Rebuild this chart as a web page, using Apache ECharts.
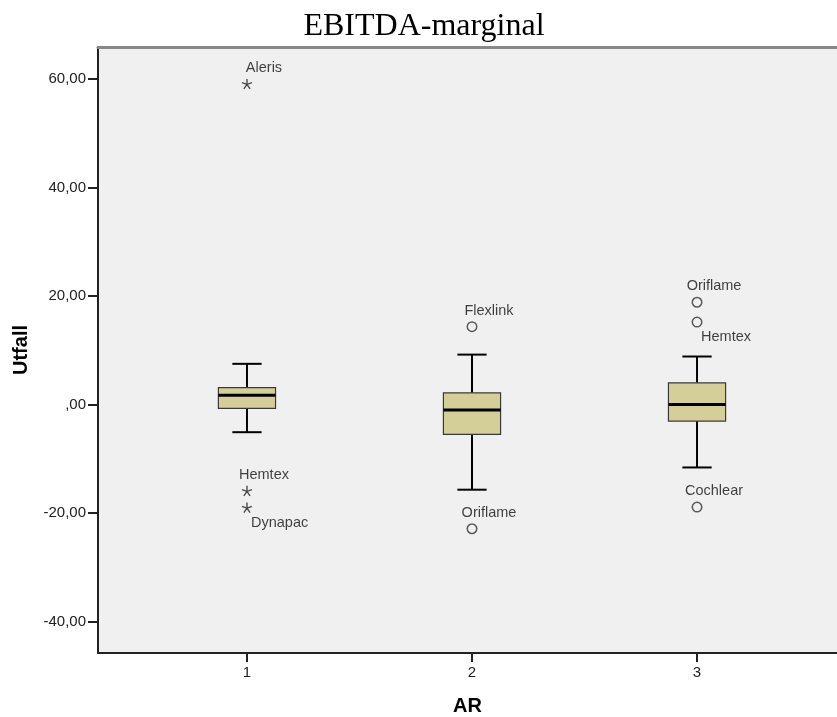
<!DOCTYPE html>
<html>
<head>
<meta charset="utf-8">
<script src="https://cdn.jsdelivr.net/npm/echarts@6/dist/echarts.min.js"></script>
<style>html,body{margin:0;padding:0;background:#fff;}#c{width:837px;height:717px;}</style>
</head>
<body>
<div id="c"></div>
<script>
// ---- data ----
const categories = [1, 2, 3];
const whiskerLow  = [-5.1, -15.7, -11.6];
const q1          = [-0.7, -5.5, -3.05];
const median      = [1.7, -1.0, 0.0];
const q3          = [3.1, 2.15, 4.0];
const whiskerHigh = [7.5, 9.2, 8.85];

const outlierGroup = [1, 1, 1, 2, 2, 3, 3, 3];
const outlierValue = [59.1, -15.9, -19.0, 14.35, -22.9, 18.85, 15.2, -18.9];
const outlierName  = ['Aleris', 'Hemtex', 'Dynapac', 'Flexlink', 'Oriflame', 'Oriflame', 'Hemtex', 'Cochlear'];
const outlierKind  = ['extreme', 'extreme', 'extreme', 'outlier', 'outlier', 'outlier', 'outlier', 'outlier'];

const yTicks = [-40, -20, 0, 20, 40, 60];
const xTicks = [1, 2, 3];

// ---- chart ----
const FONT = 'Liberation Sans, Arial, sans-serif';
const belowRight = new Set(['1|Dynapac', '3|Hemtex']);
const fmtY = v => { let s = Math.abs(v).toFixed(2).replace('.', ','); if (s.startsWith('0,')) s = s.slice(1); return (v < 0 ? '-' : '') + s; };

const boxData = categories.map((c, i) => [c, whiskerLow[i], q1[i], median[i], q3[i], whiskerHigh[i]]);

function outlierSeries(kind) {
  const data = [];
  outlierValue.forEach((v, i) => {
    if (outlierKind[i] !== kind) return;
    const below = belowRight.has(outlierGroup[i] + '|' + outlierName[i]);
    data.push({
      value: [outlierGroup[i], v],
      name: outlierName[i],
      label: below
        ? { position: 'inside', align: 'left', offset: [4, 15] }
        : { position: 'inside', align: 'center', offset: [17, -16] }
    });
  });
  const star = 'path://M0,0L0,-10M0,0L9.5,-3.1M0,0L5.9,8.1M0,0L-5.9,8.1M0,0L-9.5,-3.1';
  return {
    type: 'scatter',
    data: data,
    symbol: kind === 'extreme' ? star : 'circle',
    symbolSize: kind === 'extreme' ? 10 : 9.5,
    itemStyle: kind === 'extreme'
      ? { color: 'rgba(0,0,0,0)', borderColor: '#222', borderWidth: 1.4 }
      : { color: 'rgba(0,0,0,0)', borderColor: '#333', borderWidth: 1.5 },
    label: {
      show: true,
      formatter: p => p.name,
      color: '#111',
      fontFamily: FONT,
      fontSize: 14.5
    },
    emphasis: { disabled: true },
    z: 5
  };
}

const chart = echarts.init(document.getElementById('c'), null, { renderer: 'canvas' });
chart.setOption({
  animation: false,
  backgroundColor: '#ffffff',
  title: {
    text: 'EBITDA-marginal',
    left: 419, top: 6, textAlign: 'center',
    textStyle: { fontFamily: 'Liberation Serif, Times New Roman, serif', fontSize: 32, fontWeight: 'normal', color: '#000' }
  },
  grid: {
    left: 98, top: 47, right: 0, bottom: 64,
    outerBoundsMode: 'none', containLabel: false,
    show: true, backgroundColor: '#f0f0f0', borderWidth: 0
  },
  xAxis: [{
    type: 'value', min: 0.338, max: 3.622,
    name: 'AR', nameLocation: 'middle', nameGap: 43,
    nameTextStyle: { fontFamily: FONT, fontWeight: 'bold', fontSize: 20, color: '#000' },
    axisLine: { show: true, onZero: false, lineStyle: { color: '#222', width: 2 } },
    axisTick: { show: true, length: 9, customValues: xTicks, lineStyle: { color: '#222', width: 2 } },
    axisLabel: { customValues: xTicks, color: '#222', fontFamily: FONT, fontSize: 15, margin: 12, formatter: v => String(v) },
    splitLine: { show: false }
  }, {
    type: 'value', position: 'top', min: 0.338, max: 3.622,
    axisLine: { show: true, onZero: false, lineStyle: { color: '#888888', width: 3 } },
    axisTick: { show: false }, axisLabel: { show: false }, splitLine: { show: false }
  }],
  yAxis: {
    type: 'value', min: -45.8, max: 65.9,
    name: 'Utfall', nameLocation: 'middle', nameGap: 67, nameRotate: 90,
    nameTextStyle: { fontFamily: FONT, fontWeight: 'bold', fontSize: 20, color: '#000' },
    axisLine: { show: true, onZero: false, lineStyle: { color: '#222', width: 2 } },
    axisTick: { show: true, length: 10, customValues: yTicks, lineStyle: { color: '#222', width: 2 } },
    axisLabel: { customValues: yTicks, formatter: fmtY, color: '#222', fontFamily: FONT, fontSize: 15, margin: 12 },
    splitLine: { show: false }
  },
  series: [{
    type: 'custom',
    data: boxData,
    encode: { x: 0, y: [1, 2, 3, 4, 5] },
    renderItem: function (params, api) {
      const x = api.value(0);
      const lo = api.coord([x, api.value(1)]);
      const b1 = api.coord([x, api.value(2)]);
      const md = api.coord([x, api.value(3)]);
      const b3 = api.coord([x, api.value(4)]);
      const hi = api.coord([x, api.value(5)]);
      const bw = api.size([0.254, 0])[0];
      const cw = api.size([0.13, 0])[0];
      const cx = lo[0];
      const ls = { stroke: '#000', lineWidth: 2 };
      return {
        type: 'group',
        children: [
          { type: 'line', shape: { x1: cx, y1: lo[1], x2: cx, y2: b1[1] }, style: ls },
          { type: 'line', shape: { x1: cx, y1: b3[1], x2: cx, y2: hi[1] }, style: ls },
          { type: 'line', shape: { x1: cx - cw / 2, y1: lo[1], x2: cx + cw / 2, y2: lo[1] }, style: ls },
          { type: 'line', shape: { x1: cx - cw / 2, y1: hi[1], x2: cx + cw / 2, y2: hi[1] }, style: ls },
          { type: 'rect', shape: { x: cx - bw / 2, y: b3[1], width: bw, height: b1[1] - b3[1] }, style: { fill: '#d4cf99', stroke: '#3a3a3a', lineWidth: 1.2 } },
          { type: 'line', shape: { x1: cx - bw / 2, y1: md[1], x2: cx + bw / 2, y2: md[1] }, style: { stroke: '#000', lineWidth: 3 } }
        ]
      };
    },
    z: 3
  }, outlierSeries('extreme'), outlierSeries('outlier')]
});
</script>
</body>
</html>
